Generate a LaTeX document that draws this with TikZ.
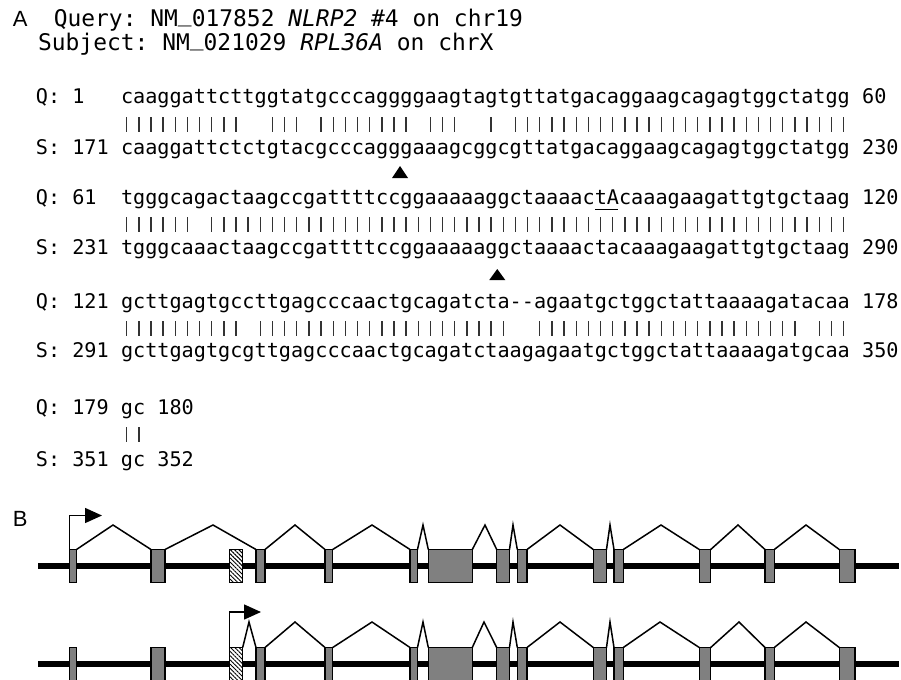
\documentclass[tikz,border=0pt]{standalone}
\usepackage{fontspec}
\setsansfont{Liberation Sans}
\setmonofont{DejaVu Sans Mono}
\usetikzlibrary{arrows.meta,patterns.meta}

\newcommand\colw{12.15}
\newcommand\seqleft{120.6}
\newcommand\usc{\raisebox{2.4pt}{\_}}

\tikzset{
  seqtxt/.style={font=\ttfamily\fontsize{10.09pt}{12pt}\selectfont, inner sep=0pt, anchor=base west},
  headtxt/.style={font=\ttfamily\fontsize{11.46pt}{14pt}\selectfont, inner sep=0pt, anchor=base west},
  paneltxt/.style={font=\sffamily\fontsize{#1}{#1}\selectfont, inner sep=0pt, anchor=base west},
  matchbar/.style={line width=0.7pt, black!80},
  junction/.style={fill=black},
  backbone/.style={line width=2.8pt},
  exon/.style={draw, line width=0.75pt, fill=black!50, inner sep=0pt, outer sep=0pt, minimum height=16.5pt},
  altexon/.style={draw, line width=0.75pt, inner sep=0pt, outer sep=0pt, minimum height=16.5pt,
    preaction={fill=white}, pattern={Lines[angle=-45,distance=1.5pt,line width=0.45pt]}},
  intron/.style={line width=0.75pt},
  tss/.style={line width=0.75pt, -{Triangle[length=8.5pt,width=7.5pt]}}
}

\begin{document}
\begin{tikzpicture}[x=0.5pt, y=-0.5pt]
  \useasboundingbox (0,0) rectangle (901,680);

  \node[paneltxt=11pt] (lblA) at (12.5,26.5) {A};
  \node[headtxt] (query) at (53.4,26.5) {Query: NM\usc 017852 \textit{NLRP2} \#4 on chr19};
  \node[headtxt] (subject) at (37.7,50.3) {Subject: NM\usc 021029 \textit{RPL36A} on chrX};

  \foreach \r/\qy/\sy/\ql/\sl/\qe/\se/\qs/\ss in {
    1/104/154/1/171/60/230/caaggattcttggtatgcccaggggaagtagtgttatgacaggaagcagagtggctatgg/caaggattctctgtacgcccagggaaagcggcgttatgacaggaagcagagtggctatgg,
    2/204/254/61/231/120/290/tgggcagactaagccgattttccggaaaaaggctaaaactAcaaagaagattgtgctaag/tgggcaaactaagccgattttccggaaaaaggctaaaactacaaagaagattgtgctaag,
    3/308/357/121/291/178/350/gcttgagtgccttgagcccaactgcagatcta-{}-agaatgctggctattaaaagatacaa/gcttgagtgcgttgagcccaactgcagatctaagagaatgctggctattaaaagatgcaa}{
    \node[seqtxt] (qlab\r) at (35.5,\qy) {Q: \ql};
    \node[seqtxt] (q\r) at (\seqleft,\qy) {\qs};
    \node[seqtxt] (qend\r) at ({\seqleft+61*\colw},\qy) {\qe};
    \node[seqtxt] (slab\r) at (35.5,\sy) {S: \sl};
    \node[seqtxt] (s\r) at (\seqleft,\sy) {\ss};
    \node[seqtxt] (send\r) at ({\seqleft+61*\colw},\sy) {\se};
  }
  \node[seqtxt] (q4) at (35.5,414) {Q: 179 gc 180};
  \node[seqtxt] (s4) at (35.5,466) {S: 351 gc 352};

  \foreach \a/\b in {0/9,12/14,16/23,25/27,30/30,32/59}
    \foreach \i in {\a,...,\b}
      \draw[matchbar] ({\seqleft+(\i+0.5)*\colw},117) -- ++(0,15);
  \foreach \a/\b in {0/5,7/59}
    \foreach \i in {\a,...,\b}
      \draw[matchbar] ({\seqleft+(\i+0.5)*\colw},217) -- ++(0,15);
  \foreach \a/\b in {0/9,11/31,34/55,57/59}
    \foreach \i in {\a,...,\b}
      \draw[matchbar] ({\seqleft+(\i+0.5)*\colw},321) -- ++(0,15);
  \foreach \i in {0,1}
    \draw[matchbar] ({\seqleft+(\i+0.5)*\colw},427) -- ++(0,15);

  \draw[line width=0.65pt] ({\seqleft+39*\colw+1},209.5) -- ({\seqleft+41*\colw-1},209.5);
  \fill[junction] ({\seqleft+23*\colw},166) -- ++(8,12) -- ++(-16,0) -- cycle;
  \fill[junction] ({\seqleft+31*\colw},269) -- ++(8,11) -- ++(-16,0) -- cycle;

  \node[paneltxt=11pt] (lblB) at (12.5,526) {B};

  \foreach \t/\ty in {a/566,b/664}{
    \draw[backbone] (38,\ty) -- (899,\ty);
    \foreach \n/\xa/\xb in {1/69.5/76.5, 2/151/165, 3/256/265, 4/325/332.7, 5/410/417.5,
        6/428.3/472.3, 7/496.7/509.5, 8/517.3/527, 9/593.3/606.5, 10/614/623.3,
        11/699.3/710.7, 12/765/774.3, 13/839.3/855}
      \node[exon, minimum width={(\xb-\xa)*0.5pt}] (\t\n) at ({(\xa+\xb)/2},\ty) {};
    \node[altexon, minimum width=6.7pt] (\t0) at (236,\ty) {};
  }

  \foreach \a/\b/\px in {1/2/113, 2/3/213, 3/4/295, 4/5/372, 5/6/423, 6/7/485,
      7/8/513, 8/9/560, 9/10/610, 10/11/661, 11/12/738, 12/13/806}
    \draw[intron] (a\a.north east) -- (\px,525) -- (a\b.north west);
  \foreach \a/\b/\px in {0/3/249, 3/4/295, 4/5/372, 5/6/423, 6/7/484,
      7/8/513, 8/9/560, 9/10/610, 10/11/660, 11/12/739, 12/13/806}
    \draw[intron] (b\a.north east) -- (\px,622) -- (b\b.north west);

  \draw[tss] (a1.north west) |- (102,515.5);
  \draw[tss] (b0.north west) |- (261,612);
\end{tikzpicture}
\end{document}
